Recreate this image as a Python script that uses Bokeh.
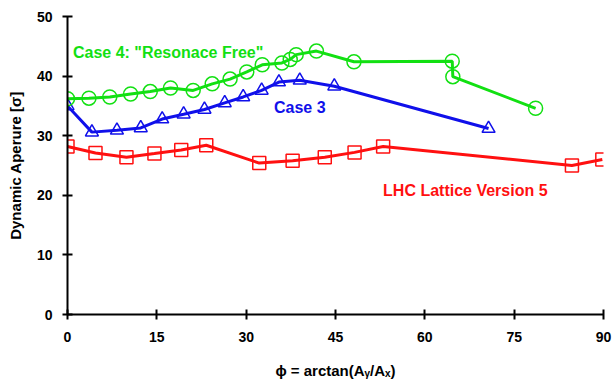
from bokeh.plotting import figure
from bokeh.models import Range1d, FixedTicker, Label
from bokeh.embed import file_html
from bokeh.resources import INLINE

# ---- data ----
case4_x = [0, 3.6, 7.1, 10.6, 13.9, 17.3, 21.1, 24.3, 27.3, 30.1, 32.7, 36.0, 37.4, 38.4, 41.8, 48.1, 64.6, 64.7, 78.6]
case4_y = [36.2, 36.3, 36.5, 37.0, 37.4, 38.0, 37.6, 38.7, 39.5, 40.7, 41.9, 42.2, 42.8, 43.6, 44.2, 42.4, 42.5, 39.9, 34.6]

case3_x = [0, 4.1, 8.3, 12.3, 15.9, 19.5, 23.0, 26.4, 29.5, 32.6, 35.5, 39.0, 44.8, 70.7]
case3_y = [35.0, 30.6, 30.9, 31.3, 32.8, 33.6, 34.4, 35.5, 36.5, 37.6, 39.0, 39.3, 38.3, 31.2]

lhc_x = [0, 4.7, 9.9, 14.6, 19.1, 23.3, 32.2, 37.8, 43.2, 48.2, 53.0, 84.7, 89.8]
lhc_y = [28.2, 27.1, 26.4, 27.0, 27.6, 28.4, 25.4, 25.8, 26.4, 27.2, 28.2, 25.0, 26.0]

x_ticks = [0, 15, 30, 45, 60, 75, 90]
y_ticks = [0, 10, 20, 30, 40, 50]

labels = ['Case 4: "Resonace Free"', "Case 3", "LHC Lattice Version 5"]
y_title = "Dynamic Aperure [σ]"
x_title = "ϕ = arctan(A\u1d67/A\u2093)"

GREEN = "#12e012"
BLUE = "#1010ea"
RED = "#ff1010"
FONT = "Liberation Sans"

p = figure(width=616, height=381, output_backend="svg", toolbar_location=None,
           x_range=Range1d(0, 90), y_range=Range1d(0, 50),
           min_border_left=67, min_border_right=13, min_border_top=16, min_border_bottom=67)
p.outline_line_color = None
p.grid.visible = False
p.background_fill_color = "white"
p.border_fill_color = "white"

for ax in (p.xaxis[0], p.yaxis[0]):
    ax.axis_line_width = 2
    ax.axis_line_color = "black"
    ax.major_tick_line_width = 2
    ax.major_tick_line_color = "black"
    ax.major_tick_in = 5
    ax.major_tick_out = 5
    ax.minor_tick_line_color = None
    ax.major_label_text_font = FONT
    ax.major_label_text_font_style = "bold"
    ax.major_label_text_font_size = "14px"
    ax.major_label_text_color = "black"
    ax.axis_label_text_font = FONT
    ax.axis_label_text_font_style = "bold"
    ax.axis_label_text_color = "black"

p.xaxis.ticker = FixedTicker(ticks=x_ticks)
p.yaxis.ticker = FixedTicker(ticks=y_ticks)
p.xaxis.major_label_standoff = 12
p.yaxis.major_label_standoff = 10

p.yaxis.axis_label = y_title
p.yaxis.axis_label_text_font_size = "15px"
p.yaxis.axis_label_standoff = 10

p.xaxis.axis_label = x_title
p.xaxis.axis_label_text_font_size = "15px"
p.xaxis.axis_label_standoff = 17

# series
p.line(lhc_x, lhc_y, line_color=RED, line_width=3)
p.scatter(lhc_x, lhc_y, marker="square", size=13, fill_alpha=0, line_color=RED, line_width=1.5)

p.line(case3_x, case3_y, line_color=BLUE, line_width=3)
p.scatter(case3_x, case3_y, marker="triangle", size=13, fill_alpha=0, line_color=BLUE, line_width=1.5)

p.line(case4_x, case4_y, line_color=GREEN, line_width=3)
p.scatter(case4_x, case4_y, marker="circle", size=14, fill_alpha=0, line_color=GREEN, line_width=1.5)

# annotations
for txt, x, y, c in [(labels[0], 16.9, 44.0, GREEN), (labels[1], 39.0, 34.8, BLUE), (labels[2], 66.8, 20.8, RED)]:
    p.add_layout(Label(x=x, y=y, text=txt, text_color=c, text_font=FONT, text_font_style="bold",
                       text_font_size="16px", text_align="center", text_baseline="middle"))

open("out.html", "w").write(file_html(p, INLINE))
